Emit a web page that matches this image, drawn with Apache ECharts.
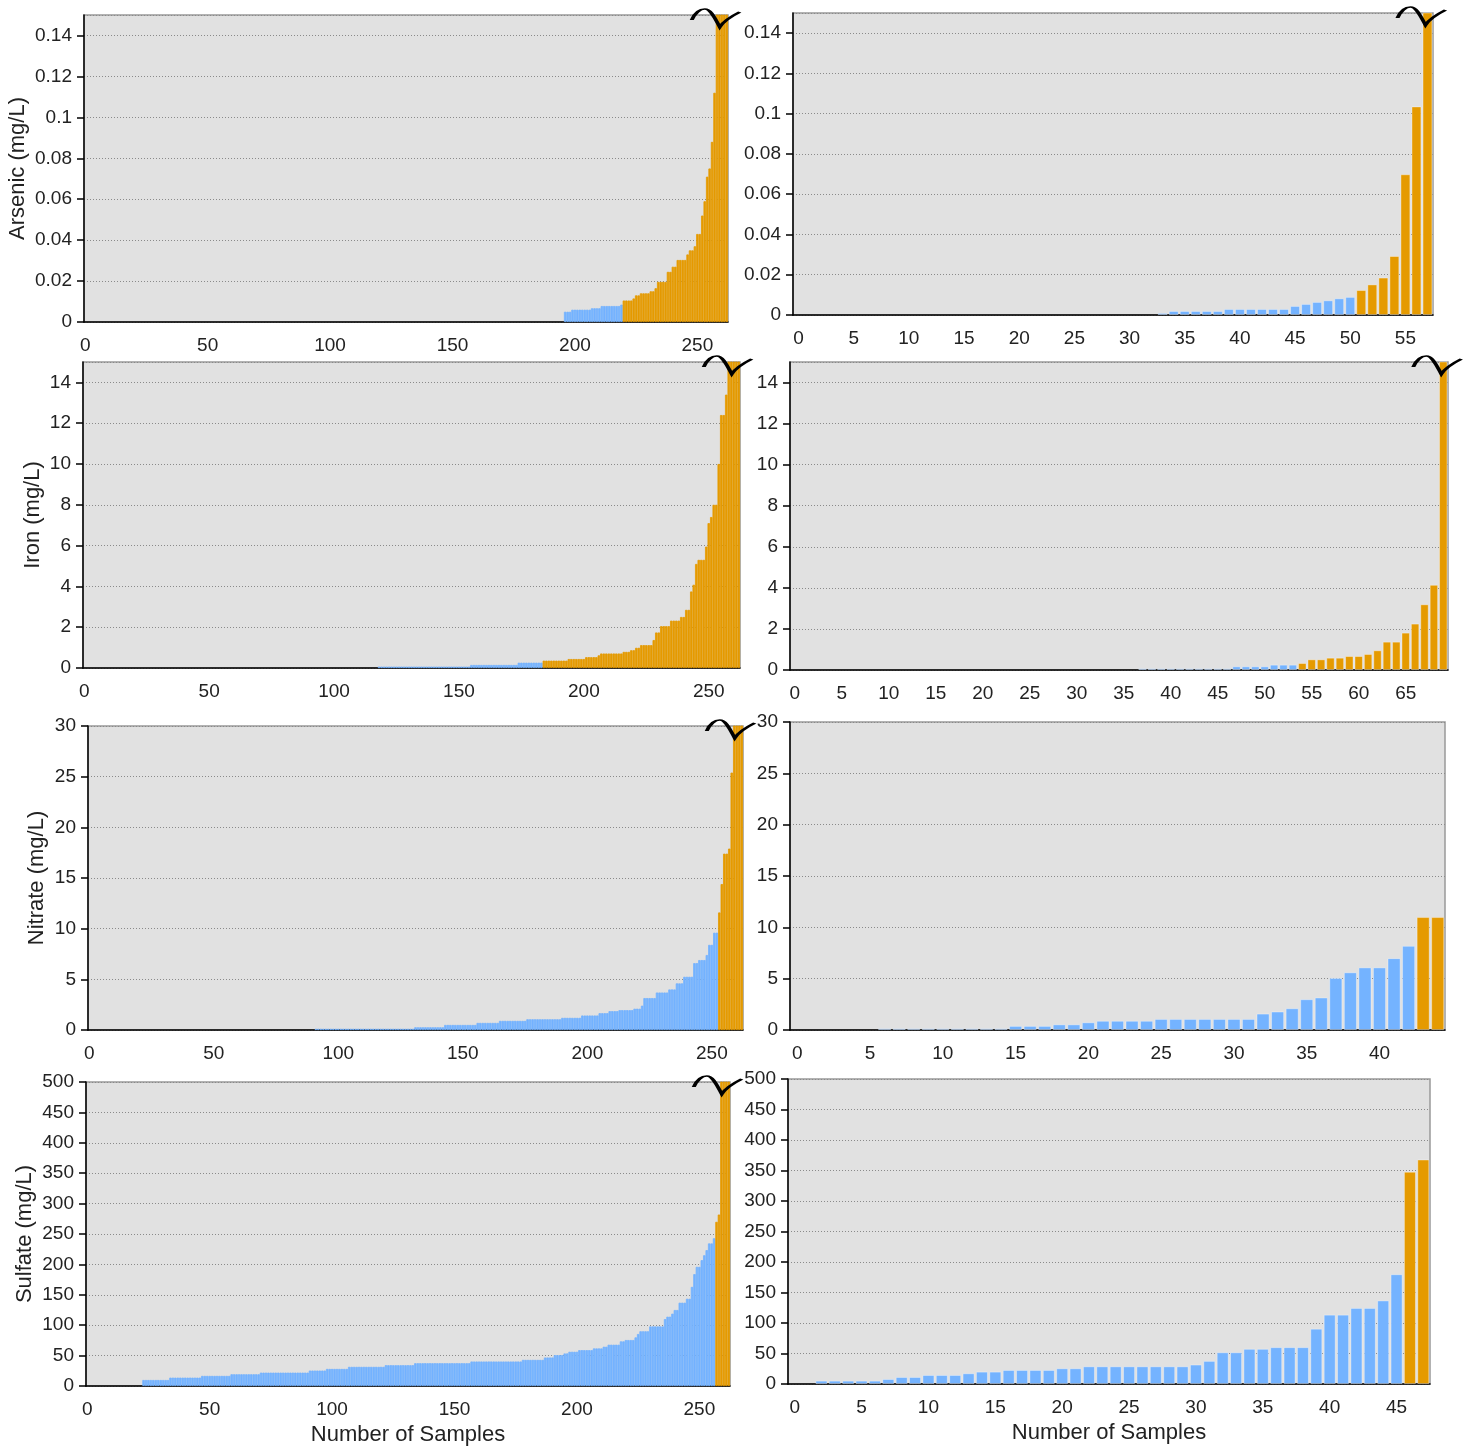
<!DOCTYPE html>
<html>
<head>
<meta charset="utf-8">
<script src="https://cdn.jsdelivr.net/npm/echarts@6/dist/echarts.min.js"></script>
<style>
  html, body { margin: 0; background: #fff; }
  #chart { width: 1465px; height: 1449px; }
</style>
</head>
<body>
<div id="chart"></div>
<script>
// Sorted sample concentrations, written as runs of [value, count] (left to right).
// Values above the axis top are drawn clipped with a break mark.
const arsenicAll = [[0,195],[0.005,3],[0.006,8],[0.0067,4],[0.0078,8],[0.0085,1],
  [0.0105,4],[0.0115,1],[0.013,2],[0.014,4],[0.015,2],[0.0165,1],[0.0196,4],[0.0245,2],
  [0.027,2],[0.0303,4],[0.033,1],[0.035,2],[0.037,1],[0.043,2],[0.052,1],[0.059,1],
  [0.071,1],[0.075,1],[0.088,1],[0.112,1],[0.2,5]];
const arsenicSub = [[0,32],[0.001,1],[0.002,5],[0.003,6],[0.0045,1],[0.0055,1],[0.0065,1],
  [0.0073,1],[0.0083,1],[0.009,1],[0.0124,1],[0.0152,1],[0.0186,1],[0.0293,1],[0.0699,1],
  [0.1036,1],[0.2,1]];
const ironAll = [[0,117],[0.07,37],[0.15,19],[0.26,10],[0.36,10],[0.44,7],[0.53,5],[0.62,1],
  [0.71,9],[0.79,3],[0.87,2],[0.99,2],[1.12,5],[1.37,1],[1.74,2],[2.05,4],[2.32,4],[2.5,2],
  [2.85,2],[3.75,1],[4.08,1],[5.1,1],[5.3,3],[5.95,1],[7.1,1],[7.4,1],[8.0,2],[10,1],
  [12.4,2],[13.4,1],[20,5]];
const ironSub = [[0,36],[0.08,10],[0.18,4],[0.26,3],[0.34,1],[0.52,2],[0.6,2],[0.68,2],
  [0.78,1],[0.96,1],[1.38,2],[1.82,1],[2.26,1],[3.2,1],[4.15,1],[20,1]];
const nitrateAll = [[0,90],[0.12,40],[0.27,12],[0.5,13],[0.7,9],[0.9,11],[1.06,14],[1.2,8],
  [1.43,7],[1.66,4],[1.86,4],[1.96,6],[2.1,3],[2.4,1],[3.15,5],[3.7,5],[4.0,3],[4.6,3],
  [5.25,4],[6.6,2],[6.9,3],[7.4,1],[8.4,2],[9.6,2],[11.6,1],[14.4,1],[17.4,2],[17.9,1],
  [25.4,1],[40,4]];
const nitrateSub = [[0,5],[0.16,9],[0.4,3],[0.55,2],[0.75,1],[0.9,4],[1.08,7],[1.6,1],[1.8,1],
  [2.12,1],[3.0,1],[3.17,1],[5.07,1],[5.62,1],[6.1,2],[7.0,1],[8.2,1],[11.0,2]];
const sulfateAll = [[0,22],[9.9,11],[13.8,13],[16.6,12],[19.3,12],[22,20],[25.4,7],[28.1,9],
  [31.5,15],[34.2,12],[37.5,23],[40.3,21],[43,9],[46.9,4],[50.8,4],[53.5,2],[56.3,4],[59,6],
  [61.8,4],[64.6,2],[67.9,5],[73.4,2],[75.6,4],[80,1],[85.5,1],[90,4],[98,6],[110,1],[114,2],
  [119,1],[125,2],[137,3],[143.5,2],[163,1],[184,1],[196,2],[207,1],[215,1],[223.5,1],
  [234.5,2],[243,1],[270,1],[282,1],[600,4]];
const sulfateSub = [[0,1],[5.5,5],[8.2,1],[11.5,2],[14.8,3],[17.6,1],[20.3,2],[23,4],[25.8,2],
  [29,8],[31.9,1],[37.9,1],[52,2],[57.7,2],[60.4,3],[90.7,1],[113.7,2],[124.7,2],[137,1],
  [180,1],[348,1],[368,1]];

// exceedance limits (mg/L) that switch bars to orange
const limits = { arsenic: 0.01, iron: 0.3, nitrate: 10, sulfate: 250 };

const BLUE = '#74b3ff';
const ORANGE = '#e59a00';
const FONT = 'Liberation Sans, Arial, sans-serif';
// axis-break squiggle drawn over the clipped last bar
const BREAK = 'path://M0,11 C3,4 8,0 13,0 C19,0 23,9 28,18 C32,12 40,7 48,3';

const panels = [
  { runs: arsenicAll, limit: limits.arsenic, max: 0.15, interval: 0.02, step: 50, wide: true,
    grid: { left: 84, top: 15, width: 644, height: 307 }, yName: 'Arsenic (mg/L)', yGap: 55 },
  { runs: arsenicSub, limit: limits.arsenic, max: 0.15, interval: 0.02, step: 5,
    grid: { left: 793, top: 13, width: 640, height: 302 } },
  { runs: ironAll, limit: limits.iron, max: 15, interval: 2, step: 50, wide: true,
    grid: { left: 83, top: 362, width: 657, height: 306 }, yName: 'Iron (mg/L)', yGap: 39 },
  { runs: ironSub, limit: limits.iron, max: 15, interval: 2, step: 5,
    grid: { left: 790, top: 362, width: 658, height: 308 } },
  { runs: nitrateAll, limit: limits.nitrate, max: 30, interval: 5, step: 50, wide: true,
    grid: { left: 88, top: 726, width: 655, height: 304 }, yName: 'Nitrate (mg/L)', yGap: 40 },
  { runs: nitrateSub, limit: limits.nitrate, max: 30, interval: 5, step: 5,
    grid: { left: 790, top: 722, width: 655, height: 308 } },
  { runs: sulfateAll, limit: limits.sulfate, max: 500, interval: 50, step: 50, wide: true,
    grid: { left: 86, top: 1082, width: 644, height: 304 }, yName: 'Sulfate (mg/L)', yGap: 50,
    xName: 'Number of Samples' },
  { runs: sulfateSub, limit: limits.sulfate, max: 500, interval: 50, step: 5,
    grid: { left: 788, top: 1079, width: 642, height: 305 }, xName: 'Number of Samples' }
];

function expand(runs) {
  const out = [];
  runs.forEach(([v, n]) => { for (let i = 0; i < n; i++) out.push(v); });
  return out;
}

const grids = [], xAxes = [], yAxes = [], series = [];

panels.forEach((p, i) => {
  const values = expand(p.runs);
  const n = values.length;
  const cats = [];
  for (let k = 0; k <= n; k++) cats.push(String(k));

  const data = ['-'].concat(values.map(v => {
    if (!v) return '-';
    const c = v > p.limit ? ORANGE : BLUE;
    return {
      value: v,
      itemStyle: p.wide
        ? { color: c, borderColor: c, borderWidth: 0.8 }
        : { color: c, borderColor: 'rgba(255,255,255,0.35)', borderWidth: 1 }
    };
  }));

  grids.push(Object.assign({
    show: true, backgroundColor: '#e1e1e1', borderColor: '#999', borderWidth: 1.5
  }, p.grid));

  xAxes.push({
    gridIndex: i, type: 'category', data: cats, boundaryGap: true,
    axisLine: { lineStyle: { color: '#000', width: 1.5 } },
    axisTick: { interval: p.step - 1, alignWithLabel: true, length: 7,
      lineStyle: { color: '#000', width: 1.5 } },
    axisLabel: { interval: p.step - 1, color: '#222', fontSize: 19, margin: 14, fontFamily: FONT },
    splitLine: { show: false },
    name: p.xName || '', nameLocation: 'middle', nameGap: 38,
    nameTextStyle: { fontSize: 22, color: '#222', fontFamily: FONT }
  });

  yAxes.push({
    gridIndex: i, type: 'value', min: 0, max: p.max, interval: p.interval,
    axisLine: { show: true, lineStyle: { color: '#000', width: 1.5 } },
    axisTick: { show: true, length: 7, lineStyle: { color: '#000', width: 1.5 } },
    axisLabel: { color: '#222', fontSize: 19, margin: 12, fontFamily: FONT,
      showMaxLabel: Math.abs(p.max / p.interval - Math.round(p.max / p.interval)) < 1e-6 },
    splitLine: { show: true, lineStyle: { color: '#8a8a8a', width: 1, type: [1, 2] } },
    name: p.yName || '', nameLocation: 'middle', nameGap: p.yGap || 40,
    nameTextStyle: { fontSize: 22, color: '#222', fontFamily: FONT }
  });

  const s = {
    type: 'bar', xAxisIndex: i, yAxisIndex: i, data: data,
    barCategoryGap: p.wide ? '0%' : '10%',
    animation: false, silent: true
  };
  if (values[n - 1] > p.max) {
    s.markPoint = {
      silent: true, animation: false,
      symbol: BREAK, symbolSize: [48, 18], symbolOffset: [p.wide ? -11 : -6, 3],
      label: { show: false },
      itemStyle: { color: 'rgba(0,0,0,0)', borderColor: '#000', borderWidth: 2.5 },
      data: [{ coord: [String(n), p.max] }]
    };
  }
  series.push(s);
});

const chart = echarts.init(document.getElementById('chart'), null, { renderer: 'canvas' });
chart.setOption({
  animation: false,
  backgroundColor: '#fff',
  grid: grids,
  xAxis: xAxes,
  yAxis: yAxes,
  series: series
});
</script>
</body>
</html>
